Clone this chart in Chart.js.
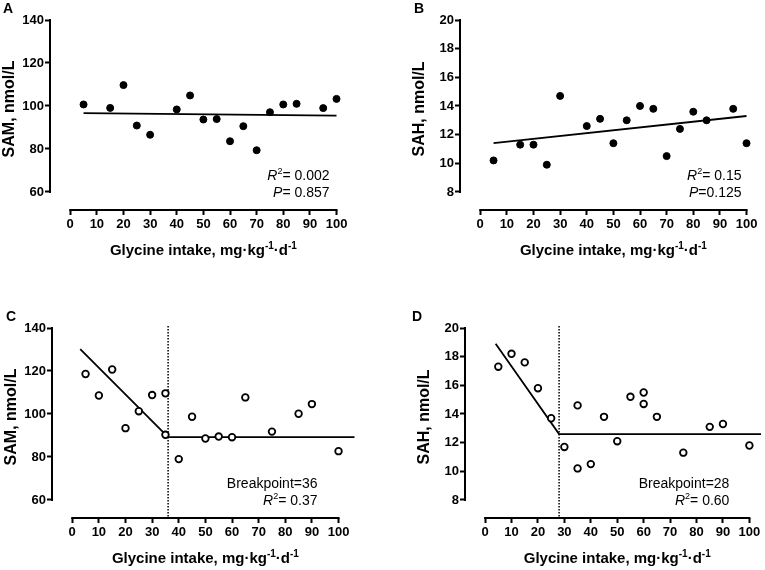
<!DOCTYPE html>
<html>
<head>
<meta charset="utf-8">
<script src="https://cdn.jsdelivr.net/npm/chart.js@4.4.1/dist/chart.umd.min.js"></script>
<style>
html, body { margin: 0; padding: 0; background: #fff; width: 765px; height: 570px; overflow: hidden; position: relative; }
canvas { position: absolute; }
</style>
</head>
<body>
<canvas id="chartA" width="380" height="285" style="left:0px;top:0px"></canvas>
<canvas id="chartB" width="380" height="285" style="left:410px;top:0px"></canvas>
<canvas id="chartC" width="380" height="262" style="left:2px;top:308px"></canvas>
<canvas id="chartD" width="380" height="262" style="left:395px;top:308px"></canvas>
<script>
// tick labels
const xTicks = [0, 10, 20, 30, 40, 50, 60, 70, 80, 90, 100];
const samTicks = [60, 80, 100, 120, 140];
const sahTicks = [8, 10, 12, 14, 16, 18, 20];

// A - SAM, linear
const intakeA = [5, 15, 20, 25, 30, 40, 45, 50, 55, 60, 65, 70, 75, 80, 85, 95, 100];
const samA = [100.7, 99.1, 109.7, 90.9, 86.6, 98.4, 104.9, 93.7, 93.9, 83.6, 90.6, 79.4, 97.1, 100.7, 101.0, 99.0, 103.3];
const fitAx = [5, 100];
const fitAy = [96.7, 95.5];

// B - SAH, linear
const intakeB = [5, 15, 20, 25, 30, 40, 45, 50, 55, 60, 65, 70, 75, 80, 85, 95, 100];
const sahB = [10.2, 11.3, 11.3, 9.9, 14.7, 12.6, 13.1, 11.4, 13.0, 14.0, 13.8, 10.5, 12.4, 13.6, 13.0, 13.8, 11.4];
const fitBx = [5, 100];
const fitBy = [11.4, 13.3];

// C - SAM, breakpoint
const intakeC = [5, 10, 15, 20, 25, 30, 35, 35, 40, 45, 50, 55, 60, 65, 75, 85, 90, 100];
const samC = [118.6, 108.6, 120.7, 93.4, 101.3, 108.8, 109.6, 90.3, 79.0, 98.7, 88.6, 89.5, 89.2, 107.7, 91.8, 100.1, 104.6, 82.7];
const fitCx = [3, 36, 106];
const fitCy = [130.2, 89.2, 89.2];
const breakC = 36;

// D - SAH, breakpoint
const intakeD = [5, 10, 15, 20, 25, 30, 35, 35, 40, 45, 50, 55, 60, 60, 65, 75, 85, 90, 100];
const sahD = [17.3, 18.2, 17.6, 15.8, 13.7, 11.7, 14.6, 10.2, 10.5, 13.8, 12.1, 15.2, 15.5, 14.7, 13.8, 11.3, 13.1, 13.3, 11.8];
const fitDx = [4, 28, 104.4];
const fitDy = [18.9, 12.6, 12.6];
const breakD = 28;

const FONT = '"Liberation Sans", Arial, sans-serif';
const xTitle = [{ t: 'Glycine intake, mg·kg' }, { t: '-1', sup: true }, { t: '·d' }, { t: '-1', sup: true }];

function pts(xs, ys) {
    return xs.map((x, i) => ({ x: x, y: ys[i] }));
}

// draws a line of text made of parts (italic / superscript)
function drawRich(ctx, parts, x, y, size, weight, align) {
    const fontOf = p => (p.it ? 'italic ' : '') + weight + ' ' + (p.sup ? Math.round(size * 0.65) : size) + 'px ' + FONT;
    let total = 0;
    parts.forEach(p => { ctx.font = fontOf(p); total += ctx.measureText(p.t).width; });
    let cx = align === 'right' ? x - total : align === 'center' ? x - total / 2 : x;
    ctx.textBaseline = 'alphabetic';
    ctx.textAlign = 'left';
    parts.forEach(p => {
        ctx.font = fontOf(p);
        ctx.fillText(p.t, cx, p.sup ? y - size * 0.4 : y);
        cx += ctx.measureText(p.t).width;
    });
}

const decor = {
    id: 'decor',
    beforeDatasetsDraw(chart, args, o) {
        if (o.breakAt == null) return;
        const { ctx, chartArea, scales: { x, y } } = chart;
        const px = x.getPixelForValue(o.breakAt);
        ctx.save();
        ctx.strokeStyle = '#000';
        ctx.lineWidth = 1.5;
        ctx.setLineDash([1.5, 1.5]);
        ctx.beginPath();
        ctx.moveTo(px, y.getPixelForValue(o.yTicks[o.yTicks.length - 1]) - 2);
        ctx.lineTo(px, chartArea.bottom);
        ctx.stroke();
        ctx.restore();
    },
    afterDraw(chart, args, o) {
        const { ctx, chartArea, scales: { x, y } } = chart;
        ctx.save();
        ctx.strokeStyle = '#000';
        ctx.fillStyle = '#000';
        ctx.lineWidth = 2;
        // axis lines only over the tick range
        ctx.beginPath();
        ctx.moveTo(chartArea.left, y.getPixelForValue(o.yTicks[0]) + 1);
        ctx.lineTo(chartArea.left, y.getPixelForValue(o.yTicks[o.yTicks.length - 1]) - 1);
        ctx.moveTo(x.getPixelForValue(xTicks[0]) - 1, chartArea.bottom);
        ctx.lineTo(x.getPixelForValue(xTicks[xTicks.length - 1]) + 1, chartArea.bottom);
        ctx.stroke();

        // x title
        drawRich(ctx, xTitle, x.getPixelForValue(50), chartArea.bottom + 45, 15, 'bold', 'center');

        // y title
        ctx.save();
        ctx.translate(chartArea.left - 40, (y.getPixelForValue(o.yTicks[0]) + y.getPixelForValue(o.yTicks[o.yTicks.length - 1])) / 2 + 3);
        ctx.rotate(-Math.PI / 2);
        ctx.font = 'bold 16px ' + FONT;
        ctx.textAlign = 'center';
        ctx.textBaseline = 'middle';
        ctx.fillText(o.yTitle, 0, 0);
        ctx.restore();

        // panel letter
        ctx.font = 'bold 14px ' + FONT;
        ctx.textAlign = 'center';
        ctx.textBaseline = 'middle';
        ctx.fillText(o.letter, chartArea.left - o.letterInset, 9);

        // statistics
        const rx = x.getPixelForValue(100) - o.statsInset;
        o.stats.forEach((line, i) => {
            drawRich(ctx, line, rx, 180 + i * 17, 14, 'normal', 'right');
        });
        ctx.restore();
    }
};

function makePanel(id, cfg) {
    const tickFont = { family: FONT, size: 13, weight: 'bold' };
    const yWidth = cfg.yWidth || 50;
    const datasets = [
        {
            type: 'scatter',
            data: pts(cfg.xs, cfg.ys),
            pointRadius: cfg.open ? 3.3 : 3.5,
            pointBorderWidth: cfg.open ? 1.8 : 1,
            pointBackgroundColor: cfg.open ? '#fff' : '#000',
            pointBorderColor: '#000',
            order: 1
        },
        {
            type: 'line',
            data: pts(cfg.fitX, cfg.fitY),
            borderColor: '#000',
            borderWidth: 1.8,
            pointRadius: 0,
            fill: false,
            tension: 0,
            order: 2
        }
    ];
    return new Chart(document.getElementById(id), {
        type: 'scatter',
        data: { datasets: datasets },
        options: {
            responsive: false,
            animation: false,
            events: [],
            layout: { padding: { top: 20, left: 0, right: 330 - yWidth - 306.5 + 50, bottom: 0 } },
            plugins: {
                legend: { display: false },
                tooltip: { enabled: false },
                decor: {
                    letter: cfg.letter,
                    letterInset: cfg.letterInset,
                    yTitle: cfg.yTitle,
                    yTicks: cfg.yTicks,
                    stats: cfg.stats,
                    statsInset: cfg.statsInset,
                    breakAt: cfg.breakAt
                }
            },
            scales: {
                x: {
                    type: 'linear',
                    min: -7.6,
                    max: 107.5,
                    afterBuildTicks: s => { s.ticks = xTicks.map(v => ({ value: v })); },
                    afterFit: s => { s.height = cfg.xHeight; },
                    ticks: { font: tickFont, color: '#000', padding: 2, maxRotation: 0, autoSkip: false },
                    grid: { drawOnChartArea: false, drawTicks: true, tickLength: 5, tickColor: '#000', tickWidth: 2 },
                    border: { display: false }
                },
                y: {
                    type: 'linear',
                    min: cfg.yMin,
                    max: cfg.yTicks[cfg.yTicks.length - 1],
                    afterBuildTicks: s => { s.ticks = cfg.yTicks.map(v => ({ value: v })); },
                    afterFit: s => { s.width = yWidth; },
                    ticks: { font: tickFont, color: '#000', padding: 1, autoSkip: false },
                    grid: { drawOnChartArea: false, drawTicks: true, tickLength: 5, tickColor: '#000', tickWidth: 2 },
                    border: { display: false }
                }
            }
        },
        plugins: [decor]
    });
}

makePanel('chartA', {
    letter: 'A', letterInset: 42, yTitle: 'SAM, nmol/L', xs: intakeA, ys: samA, fitX: fitAx, fitY: fitAy,
    yTicks: samTicks, yMin: 51.6, xHeight: 75, open: false, statsInset: 7,
    stats: [[{ t: 'R', it: true }, { t: '2', sup: true }, { t: '= 0.002' }], [{ t: 'P', it: true }, { t: '= 0.857' }]]
});
makePanel('chartB', {
    letter: 'B', letterInset: 41, yTitle: 'SAH, nmol/L', xs: intakeB, ys: sahB, fitX: fitBx, fitY: fitBy,
    yTicks: sahTicks, yMin: 6.74, xHeight: 75, open: false, statsInset: 5,
    stats: [[{ t: 'R', it: true }, { t: '2', sup: true }, { t: '= 0.15' }], [{ t: 'P', it: true }, { t: '=0.125' }]]
});
makePanel('chartC', {
    letter: 'C', letterInset: 41, yTitle: 'SAM, nmol/L', xs: intakeC, ys: samC, fitX: fitCx, fitY: fitCy,
    yTicks: samTicks, yMin: 51.6, xHeight: 52, open: true, statsInset: 21, breakAt: breakC,
    stats: [[{ t: 'Breakpoint=36' }], [{ t: 'R', it: true }, { t: '2', sup: true }, { t: '= 0.37' }]]
});
makePanel('chartD', {
    letter: 'D', letterInset: 48, yWidth: 70, yTitle: 'SAH, nmol/L', xs: intakeD, ys: sahD, fitX: fitDx, fitY: fitDy,
    yTicks: sahTicks, yMin: 6.74, xHeight: 52, open: true, statsInset: 20, breakAt: breakD,
    stats: [[{ t: 'Breakpoint=28' }], [{ t: 'R', it: true }, { t: '2', sup: true }, { t: '= 0.60' }]]
});
</script>
</body>
</html>
